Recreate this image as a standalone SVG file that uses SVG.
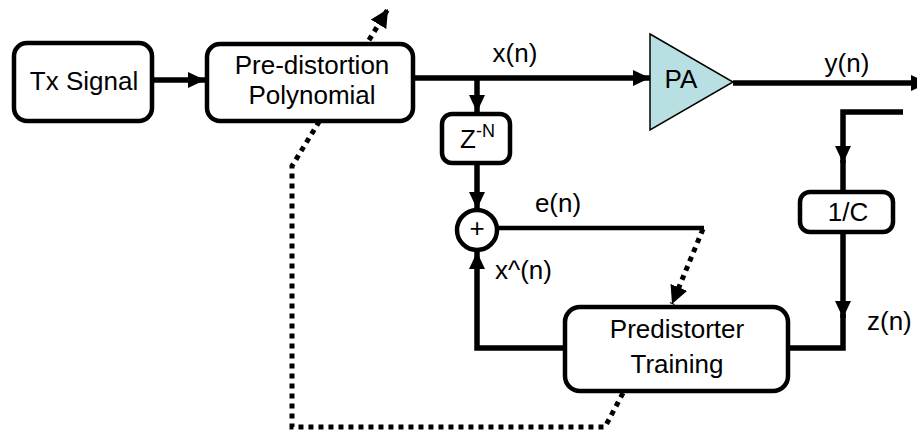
<svg xmlns="http://www.w3.org/2000/svg" width="917" height="432" viewBox="0 0 917 432">
  <defs>
    <style>
      .box { fill: #ffffff; stroke: #000000; stroke-width: 4.5; }
      .wire { fill: none; stroke: #000000; stroke-width: 5.5; }
      .thin { fill: none; stroke: #000000; stroke-width: 4.5; }
      .dots { fill: none; stroke: #000000; stroke-width: 5; stroke-dasharray: 5 5; }
      .lbl { font-family: "Liberation Sans", Arial, sans-serif; font-size: 26px; fill: #000000; }
      .mid { text-anchor: middle; }
    </style>
    <marker id="head" markerUnits="userSpaceOnUse" markerWidth="18" markerHeight="16" refX="17" refY="8" orient="auto">
      <path d="M0,0 L17,8 L0,16 Z" fill="#000000"/>
    </marker>
    <marker id="headDot" markerUnits="userSpaceOnUse" markerWidth="20" markerHeight="18" refX="18" refY="9" orient="auto">
      <path d="M0,0 L18,9 L0,18 Z" fill="#000000"/>
    </marker>
  </defs>

  <rect width="917" height="432" fill="#ffffff"/>

  <!-- signal paths -->
  <g id="connectors">
    <!-- coefficient update path (dotted), runs under the polynomial block -->
    <path class="dots" d="M623,393 L605,427 L292,427 L292,166 L388,9" marker-end="url(#headDot)"/>
    <path class="dots" d="M703,229 L672,304" marker-end="url(#headDot)"/>

    <path class="wire" d="M154,80 H205" marker-end="url(#head)"/>
    <path class="wire" d="M415,78 H650" marker-end="url(#head)"/>
    <path class="wire" d="M733,83 H928" marker-end="url(#head)"/>
    <path class="wire" d="M477,78 V112" marker-end="url(#head)"/>
    <path class="wire" d="M477,165 V209" marker-end="url(#head)"/>
    <path class="thin" d="M498,228 H704"/>
    <path class="wire" d="M565,348 H477 V252" marker-end="url(#head)"/>
    <path class="wire" d="M903,112 H843 V163" marker-end="url(#head)"/>
    <path class="wire" d="M843,160 V192"/>
    <path class="wire" d="M843,232 V318" marker-end="url(#head)"/>
    <path class="wire" d="M843,314 V348 H788"/>

    <text class="lbl mid" x="515" y="62">x(n)</text>
    <text class="lbl mid" x="847" y="72">y(n)</text>
    <text class="lbl mid" x="558" y="212">e(n)</text>
    <text class="lbl" x="495" y="279">x^(n)</text>
    <text class="lbl" x="867" y="330">z(n)</text>
  </g>

  <g id="tx-signal">
    <rect class="box" x="14" y="43" width="138" height="78" rx="13"/>
    <text class="lbl mid" x="84" y="90">Tx Signal</text>
  </g>

  <g id="predistortion-polynomial">
    <rect class="box" x="207" y="44" width="206" height="77" rx="13"/>
    <text class="lbl mid" x="312" y="74">Pre-distortion</text>
    <text class="lbl mid" x="312" y="104">Polynomial</text>
  </g>

  <g id="power-amplifier">
    <polygon points="650,34 733,82 650,130" fill="#b8dfe2" stroke="#000000" stroke-width="1.5"/>
    <text class="lbl mid" x="681" y="88">PA</text>
  </g>

  <g id="delay">
    <rect class="box" x="442" y="114" width="68" height="49" rx="10"/>
    <text class="lbl" x="460" y="148">Z<tspan font-size="18" dy="-11">-N</tspan></text>
  </g>

  <g id="summer">
    <circle class="box" cx="477" cy="230" r="20"/>
    <text class="lbl mid" x="477" y="237" font-size="20">+</text>
  </g>

  <g id="gain-normalise">
    <rect class="box" x="800" y="192" width="93" height="40" rx="10"/>
    <text class="lbl mid" x="848" y="221">1/C</text>
  </g>

  <g id="predistorter-training">
    <rect class="box" x="565" y="307" width="223" height="84" rx="15"/>
    <text class="lbl mid" x="677" y="338">Predistorter</text>
    <text class="lbl mid" x="677" y="373">Training</text>
  </g>
</svg>
